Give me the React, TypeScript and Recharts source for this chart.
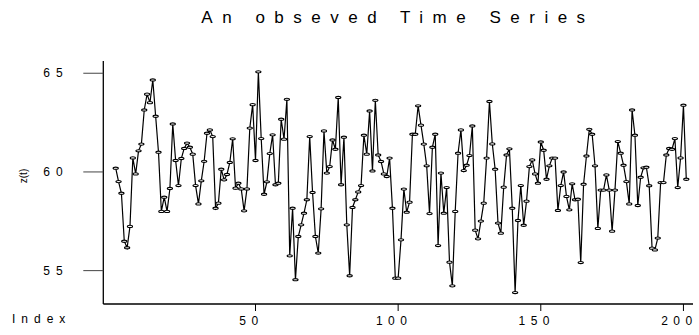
import { LineChart, Line, XAxis, YAxis } from "recharts";

const TITLE = "An obseved Time Series";
const X_LABEL = "Index";
const Y_LABEL = "z(t)";
const X_TICKS = [50, 100, 150, 200];
const Y_TICKS = [55, 60, 65];

const Z_001_050 = [
  60.19, 59.51, 58.92, 56.49, 56.16, 57.24, 60.71, 59.9, 61.07, 61.41,
  63.14, 63.94, 63.51, 64.66, 62.82, 61.0, 58.0, 58.72, 58.0, 59.16,
  62.43, 60.58, 59.31, 60.68, 61.19, 61.46, 61.25, 60.9, 59.31, 58.38,
  59.55, 60.54, 61.96, 62.13, 61.79, 58.16, 58.42, 60.14, 59.6, 59.87,
  60.48, 61.68, 59.18, 59.43, 59.14, 58.03, 59.14, 62.22, 63.41, 60.58,
];
const Z_051_100 = [
  65.07, 61.69, 58.87, 59.5, 60.93, 61.88, 59.35, 59.43, 62.67, 61.66,
  63.68, 55.75, 58.16, 54.54, 56.73, 57.32, 57.91, 58.59, 61.79, 58.96,
  56.73, 55.89, 58.13, 62.08, 59.94, 60.27, 61.62, 61.15, 63.77, 59.35,
  61.76, 57.32, 54.74, 58.2, 58.59, 58.99, 59.31, 61.86, 60.9, 63.09,
  60.05, 63.63, 60.86, 60.53, 59.9, 59.77, 60.7, 58.16, 54.62, 54.62,
];
const Z_101_150 = [
  56.56, 59.13, 57.96, 58.47, 61.91, 61.91, 63.35, 62.37, 61.41, 60.31,
  57.89, 61.25, 61.91, 56.27, 59.94, 57.91, 59.21, 55.43, 54.23, 58.0,
  60.95, 62.13, 60.07, 60.34, 60.83, 62.33, 57.05, 56.61, 57.51, 58.42,
  60.7, 63.57, 61.42, 60.14, 57.41, 56.9, 59.23, 60.86, 61.17, 58.16,
  53.89, 57.54, 59.31, 57.3, 58.52, 60.27, 60.61, 59.9, 59.43, 61.52,
];
const Z_151_201 = [
  61.1, 59.63, 60.31, 60.7, 60.7, 58.05, 59.31, 60.0, 58.76, 58.08,
  59.4, 58.59, 58.62, 55.41, 59.38, 60.81, 62.16, 61.91, 60.31, 57.14,
  59.08, 59.08, 59.85, 59.08, 57.0, 59.08, 61.54, 60.95, 60.34, 59.51,
  58.38, 63.14, 61.86, 58.3, 59.73, 60.21, 60.24, 59.3, 56.14, 56.05,
  56.65, 59.46, 59.46, 60.86, 61.19, 61.15, 61.69, 59.21, 60.71, 63.38,
  59.63,
];

const SERIES = [...Z_001_050, ...Z_051_100, ...Z_101_150, ...Z_151_201];
const data = SERIES.map((z, i) => ({ t: i + 1, z }));

const FONT = '"Liberation Sans Narrow", "Liberation Sans", Arial, sans-serif';
const INK = "#000";
const X_DOMAIN = [-3.35, 203.35];
const Y_DOMAIN = [53.31, 65.62];

function XTick({ x, y, payload }: any) {
  return (
    <text x={x - 4} y={y + 12} textAnchor="middle" fontSize={12} letterSpacing={5.5} fontFamily={FONT} fill={INK}>
      {payload.value}
    </text>
  );
}

function YTick({ y, payload }: any) {
  return (
    <text x={56} y={y + 4} textAnchor="middle" fontSize={12} letterSpacing={6} fontFamily={FONT} fill={INK}>
      {payload.value}
    </text>
  );
}

function Marker({ cx, cy, index }: any) {
  return <ellipse key={index} cx={cx} cy={cy} rx={2.6} ry={1.1} fill="#fff" stroke={INK} strokeWidth={1.1} />;
}

export default function App() {
  return (
    <div style={{ position: "absolute", left: 0, top: 0, width: 699, height: 335, background: "#fff", fontFamily: FONT }}>
      <div
        style={{
          position: "absolute",
          left: 0,
          width: 796,
          top: 8,
          textAlign: "center",
          fontSize: 17,
          letterSpacing: 9.5,
          color: INK,
        }}
      >
        {TITLE}
      </div>
      <div style={{ position: "absolute", left: 12, top: 312, fontSize: 12, letterSpacing: 6, color: INK }}>{X_LABEL}</div>
      <div
        style={{
          position: "absolute",
          left: 23,
          top: 176,
          fontSize: 10,
          color: INK,
          transform: "translate(-50%, -50%) rotate(-90deg)",
        }}
      >
        {Y_LABEL}
      </div>
      <LineChart width={699} height={335} data={data} margin={{ top: 61, right: 6, bottom: 0, left: 0 }}>
        <XAxis
          dataKey="t"
          type="number"
          domain={X_DOMAIN}
          ticks={X_TICKS}
          allowDataOverflow
          height={31}
          tickSize={7}
          tick={<XTick />}
          stroke={INK}
          axisLine={{ stroke: INK, strokeWidth: 1.3 }}
          tickLine={{ stroke: INK }}
        />
        <XAxis xAxisId="top" orientation="top" dataKey="t" type="number" domain={X_DOMAIN} height={0} tick={false} tickLine={false} axisLine={{ stroke: "#555", strokeWidth: 1.2 }} />
        <YAxis
          type="number"
          domain={Y_DOMAIN}
          ticks={Y_TICKS}
          allowDataOverflow
          width={103.3}
          tickSize={20}
          tick={<YTick />}
          axisLine={{ stroke: INK, strokeWidth: 1.3 }}
          tickLine={{ stroke: "#444" }}
        />
        <YAxis yAxisId="right" orientation="right" domain={Y_DOMAIN} width={0} tick={false} tickLine={false} axisLine={{ stroke: "#333", strokeWidth: 1.2 }} />
        <Line
          dataKey="z"
          stroke={INK}
          strokeWidth={1.2}
          dot={<Marker />}
          isAnimationActive={false}
        />
      </LineChart>
    </div>
  );
}
